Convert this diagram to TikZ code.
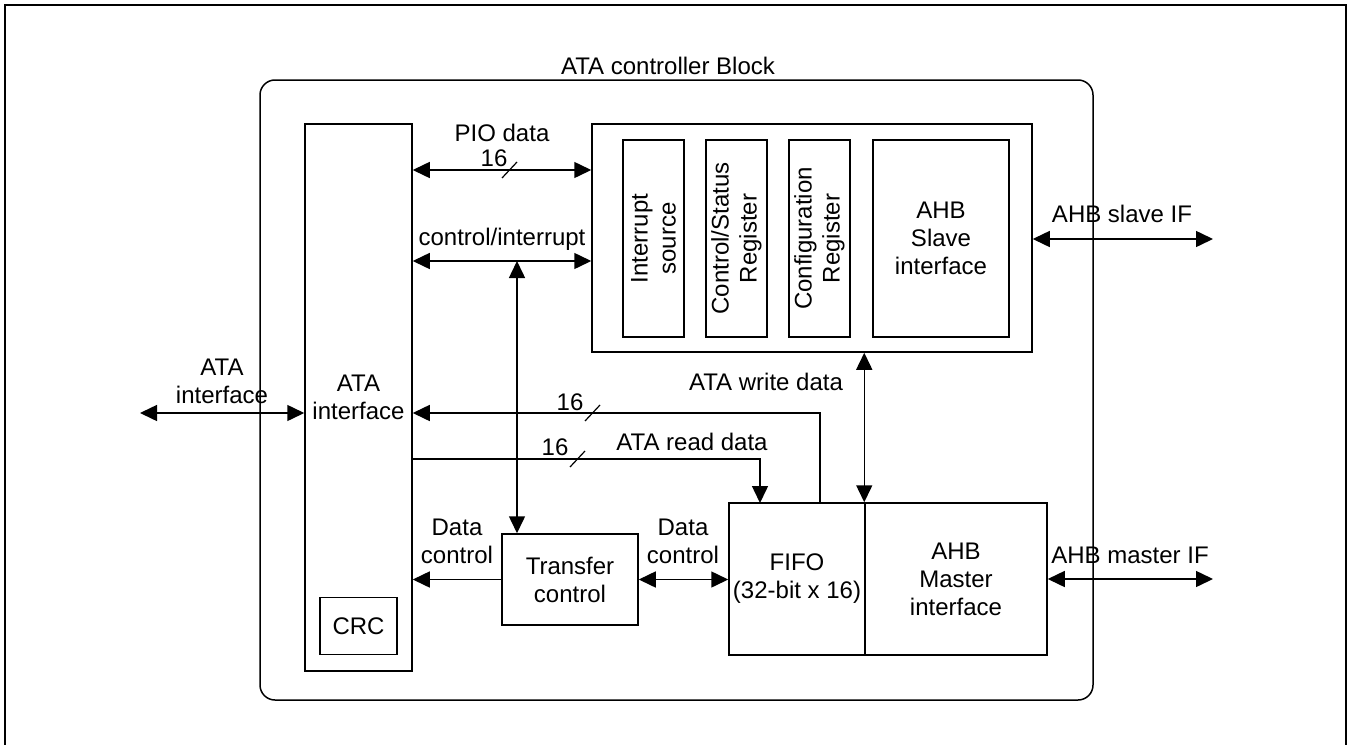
\documentclass[tikz,border=0pt]{standalone}
\usepackage{fontspec}
\setmainfont{Liberation Sans}
\usetikzlibrary{arrows.meta, positioning, calc}

\begin{document}
\begin{tikzpicture}[
  x=0.5pt, y=-0.5pt,
  >={Triangle[length=8.5pt, width=8pt]},
  every node/.style={font=\fontsize{12}{14}\selectfont, align=center, inner sep=0pt},
  blk/.style={draw, line width=0.75pt, anchor=center},
  link/.style={line width=0.75pt},
  tick/.style={line width=0.6pt}
]
  \useasboundingbox (0,0) rectangle (1354,744);
  % ----- outer frame -----
  \draw[line width=1.1pt] (5,760) -- (5,5) -- (1346,5) -- (1346,760);
  % ----- controller block -----
  \node[blk, rounded corners=7.5pt, minimum width=416.5pt, minimum height=310pt] (ctrl) at (676.5,390) {};
  \node (title) at (668,66) {ATA controller Block};
  % ----- ATA side -----
  \node[blk, minimum width=53.5pt, minimum height=273.5pt] (ata) at (358.5,397.5) {ATA\\interface};
  \node[blk, minimum width=38.5pt, minimum height=28.5pt] (crc) at (358.5,626) {CRC};
  % ----- register block -----
  \node[blk, minimum width=220pt, minimum height=114pt] (regs) at (812,238) {};
  \node[blk, rotate=90, minimum width=98.5pt, minimum height=30.5pt] (intsrc) at (653.5,238.5) {Interrupt\\source};
  \node[blk, rotate=90, minimum width=98.5pt, minimum height=30.5pt] (csreg) at (736.5,238.5) {Control/Status\\Register};
  \node[blk, rotate=90, minimum width=98.5pt, minimum height=30.5pt] (cfgreg) at (819.5,238.5) {Configuration\\Register};
  \node[blk, minimum width=68pt, minimum height=98.5pt] (slave) at (941,238.5) {AHB\\Slave\\interface};
  % ----- data path -----
  \node[blk, minimum width=68pt, minimum height=45.5pt] (xfer) at (570,579.5) {Transfer\\control};
  \node[blk, minimum width=68pt, minimum height=76pt] (fifo) at (797,579) {FIFO\\(32-bit x 16)};
  \node[blk, minimum width=91pt, minimum height=76pt] (master) at (956,579) {AHB\\Master\\interface};
  % ----- helper points -----
  \coordinate (pio) at (0,170);
  \coordinate (ci) at (517,261);
  \coordinate (wrsrc) at (820,503);
  \coordinate (wrlvl) at (0,413);
  \coordinate (rdlvl) at (0,459);
  \coordinate (rddst) at (760,503);
  \coordinate (ataext) at (140,413);
  \coordinate (slvend) at (1213,239);
  % ----- labels -----
  \node (piolbl) at (502,133) {PIO data};
  \node (piobits) at (494,158) {16};
  \node (cilbl) at (502,239) {control/interrupt};
  \node (wrlbl) at (766,382) {ATA write data};
  \node (wrbits) at (570,402) {16};
  \node (rdbits) at (555,447) {16};
  \node (rdlbl) at (692,442) {ATA read data};
  \node (dcl) at (457,541) {Data\\control};
  \node (dcr) at (683,541) {Data\\control};
  \node (slvlbl) at (1122,214) {AHB slave IF};
  \node (mstlbl) at (1130,555) {AHB master IF};
  \node (atalbl) at (222,381) {ATA\\interface};
  % ----- connectors -----
  \draw[<->,link] (ata.east |- pio) -- (regs.west |- pio);
  \draw[<->,link] (ata.east |- ci) -- (regs.west |- ci);
  \draw[<->,link] (ci) -- (ci |- xfer.north);
  \draw[->,link] (xfer.west) -- (xfer.west -| ata.east);
  \draw[<->,link] (xfer.east) -- (xfer.east -| fifo.west);
  \draw[->,link] (wrsrc) |- (ata.east |- wrlvl);
  \draw[->,link] (ata.east |- rdlvl) -| (rddst);
  \draw[<->,link] (regs.south -| master.north west) -- (master.north west);
  \draw[<->,link] (regs.east |- slvend) -- (slvend);
  \draw[<->,link] (master.east) -- (master.east -| slvend);
  \draw[<->,link] (ataext) -- (ataext -| ata.west);
  % ----- bus width ticks -----
  \draw[tick] (502,178) -- (517,162);
  \draw[tick] (585,421) -- (600,405);
  \draw[tick] (570,467) -- (585,451);
\end{tikzpicture}
\end{document}
